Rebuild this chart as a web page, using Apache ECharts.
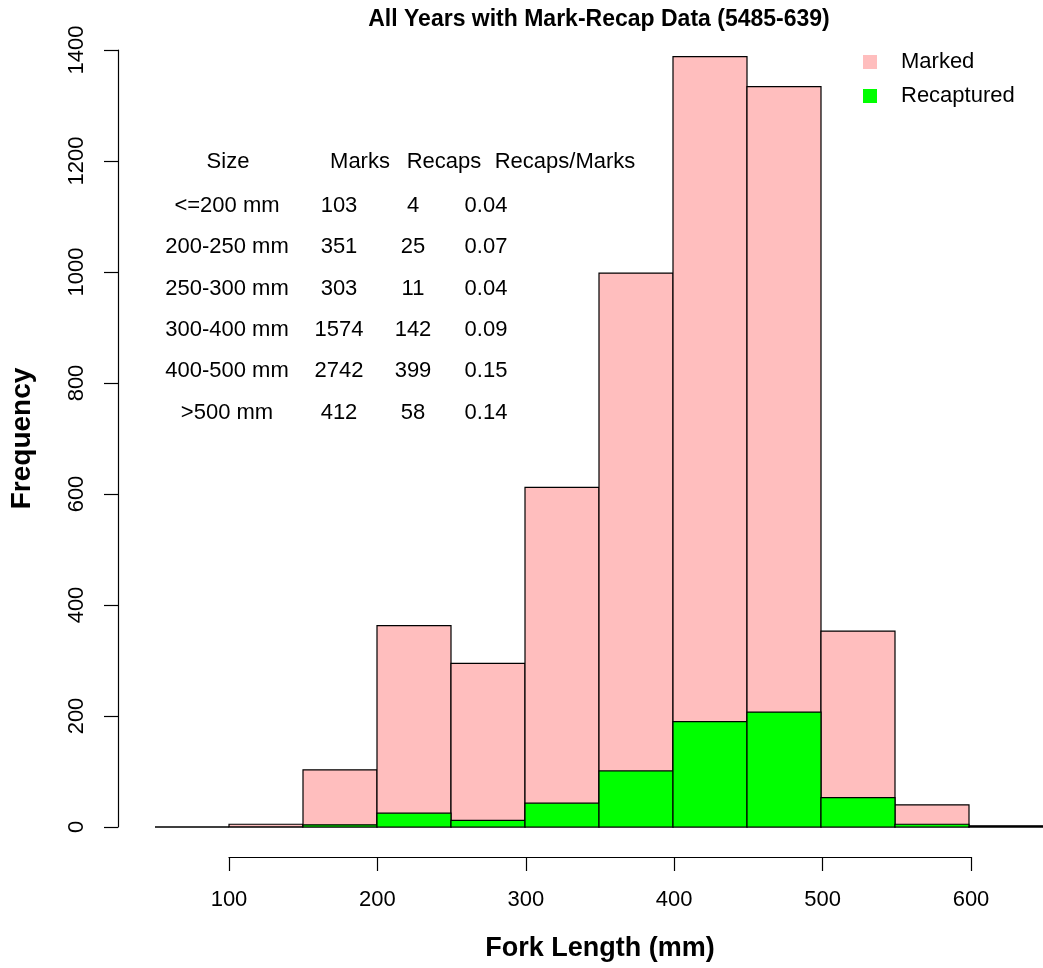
<!DOCTYPE html>
<html>
<head>
<meta charset="utf-8">
<script src="https://cdn.jsdelivr.net/npm/echarts@6/dist/echarts.min.js"></script>
<style>
html, body { margin: 0; padding: 0; background: #ffffff; }
#chart { width: 1043px; height: 968px; }
</style>
</head>
<body>
<div id="chart"></div>
<script>
// Histogram bins (fork length, mm): lower edges, fixed width
const binLow = [50, 100, 150, 200, 250, 300, 350, 400, 450, 500, 550, 600];
const binWidth = 50;
// Counts per bin
const markedCounts = [0, 5, 103, 363, 295, 612, 998, 1388, 1334, 353, 40, 2];
const recapturedCounts = [0, 0, 4, 25, 12, 43, 101, 190, 207, 53, 5, 1];

// Axis ticks
const xTicks = [100, 200, 300, 400, 500, 600];
const yTicks = [0, 200, 400, 600, 800, 1000, 1200, 1400];

// Summary table
const tableHeader = ['Size', 'Marks', 'Recaps', 'Recaps/Marks'];
const tableSizes = ['<=200 mm', '200-250 mm', '250-300 mm', '300-400 mm', '400-500 mm', '>500 mm'];
const tableMarks = ['103', '351', '303', '1574', '2742', '412'];
const tableRecaps = ['4', '25', '11', '142', '399', '58'];
const tableRatios = ['0.04', '0.07', '0.04', '0.09', '0.15', '0.14'];

const FONT = '"Liberation Sans", Arial, Helvetica, sans-serif';
const PINK = '#FFBEBE';
const GREEN = '#00FF00';

function histData(counts) {
  return binLow.map((lo, i) => [lo, lo + binWidth, counts[i]]);
}

function rectRenderer(fill) {
  return function (params, api) {
    const lo = api.value(0), hi = api.value(1), v = api.value(2);
    const p0 = api.coord([lo, 0]);
    const p1 = api.coord([hi, v]);
    return {
      type: 'rect',
      shape: { x: p0[0], y: p1[1], width: p1[0] - p0[0], height: p0[1] - p1[1] },
      style: { fill: fill, stroke: '#000000', lineWidth: 1.2 }
    };
  };
}

// Table text laid out in rows / columns
const headerX = [228, 360, 444, 565];
const colX = [227, 339, 413, 486];
const headerY = 162;
const rowY0 = 206, rowStep = 41.3;
const tableText = [];
function txt(s, x, y) {
  tableText.push({
    type: 'text', x: x, y: y, silent: true,
    style: { text: s, font: '22px ' + FONT, fill: '#000', textAlign: 'center', textVerticalAlign: 'middle', align: 'center', verticalAlign: 'middle' }
  });
}
tableHeader.forEach((h, j) => txt(h, headerX[j], headerY));
tableSizes.forEach((s, i) => {
  const y = rowY0 + i * rowStep;
  txt(s, colX[0], y);
  txt(tableMarks[i], colX[1], y);
  txt(tableRecaps[i], colX[2], y);
  txt(tableRatios[i], colX[3], y);
});

const chart = echarts.init(document.getElementById('chart'), null, { renderer: 'canvas' });
chart.setOption({
  animation: false,
  backgroundColor: '#ffffff',
  textStyle: { fontFamily: FONT },
  graphic: [{
    type: 'text', x: 599, y: 20, silent: true,
    style: { text: 'All Years with Mark-Recap Data (5485-639)', font: 'bold 23px ' + FONT, fill: '#000',
      textAlign: 'center', textVerticalAlign: 'middle', align: 'center', verticalAlign: 'middle' }
  }].concat(tableText),
  legend: {
    orient: 'vertical', left: 863, top: 51, itemGap: 12, padding: 0,
    itemWidth: 14, itemHeight: 14, icon: 'rect',
    textStyle: { fontSize: 22, fontFamily: FONT, color: '#000', padding: [0, 0, 0, 19] },
    data: ['Marked', 'Recaptured']
  },
  grid: [
    { left: 155, top: 50, width: 890, height: 777 },
    { left: 229, top: 50, width: 742, height: 777 }
  ],
  xAxis: [
    { gridIndex: 0, type: 'value', min: 50, max: 650, show: false },
    {
      gridIndex: 1, type: 'value', min: xTicks[0], max: xTicks[xTicks.length - 1], interval: 100,
      position: 'bottom', offset: 30,
      axisLine: { show: true, onZero: false, lineStyle: { color: '#000', width: 1.2 } },
      axisTick: { show: true, length: 14, lineStyle: { color: '#000', width: 1.2 } },
      axisLabel: { fontSize: 22, color: '#000', margin: 32, fontFamily: FONT, formatter: v => String(v) },
      splitLine: { show: false },
      name: 'Fork Length (mm)', nameLocation: 'middle', nameGap: 78,
      nameTextStyle: { fontSize: 27, fontWeight: 'bold', color: '#000', fontFamily: FONT }
    }
  ],
  yAxis: [
    {
      gridIndex: 0, type: 'value', min: yTicks[0], max: yTicks[yTicks.length - 1], interval: 200,
      position: 'left', offset: 37,
      axisLine: { show: true, onZero: false, lineStyle: { color: '#000', width: 1.2 } },
      axisTick: { show: true, length: 14, lineStyle: { color: '#000', width: 1.2 } },
      axisLabel: { fontSize: 22, color: '#000', margin: 30, rotate: 90, fontFamily: FONT, formatter: v => String(v) },
      splitLine: { show: false },
      name: 'Frequency', nameLocation: 'middle', nameRotate: 90, nameGap: 82,
      nameTextStyle: { fontSize: 28, fontWeight: 'bold', color: '#000', fontFamily: FONT }
    },
    { gridIndex: 1, type: 'value', min: 0, max: 1400, show: false }
  ],
  series: [
    {
      name: 'Marked', type: 'custom', xAxisIndex: 0, yAxisIndex: 0,
      itemStyle: { color: PINK },
      encode: { x: [0, 1], y: 2 },
      renderItem: rectRenderer(PINK),
      data: histData(markedCounts)
    },
    {
      name: 'Recaptured', type: 'custom', xAxisIndex: 0, yAxisIndex: 0,
      itemStyle: { color: GREEN },
      encode: { x: [0, 1], y: 2 },
      renderItem: rectRenderer(GREEN),
      data: histData(recapturedCounts)
    }
  ]
});
</script>
</body>
</html>
